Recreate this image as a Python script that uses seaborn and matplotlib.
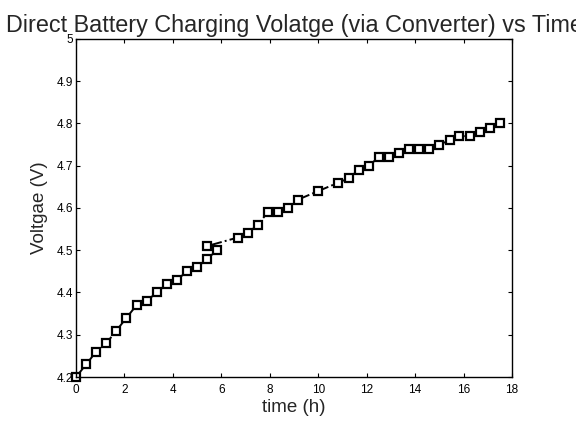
import pandas as pd
import seaborn as sns
import matplotlib
matplotlib.use("Agg")
import matplotlib.pyplot as plt
from matplotlib.ticker import FormatStrFormatter, MultipleLocator

# readings taken roughly every 25 min (one point out of order near 5.4 h)
time_h = [0.00, 0.42, 0.83, 1.25, 1.67, 2.08, 2.50, 2.92, 3.33, 3.75,
          4.17, 4.58, 5.00, 5.42, 5.83, 5.42, 6.67, 7.08, 7.50, 7.92,
          8.33, 8.75, 9.17, 10.00, 10.83, 11.25, 11.67, 12.08, 12.50, 12.92,
          13.33, 13.75, 14.17, 14.58, 15.00, 15.42, 15.83, 16.25, 16.67, 17.08,
          17.50]
voltage = [4.20, 4.23, 4.26, 4.28, 4.31, 4.34, 4.37, 4.38, 4.40, 4.42,
           4.43, 4.45, 4.46, 4.48, 4.50, 4.51, 4.53, 4.54, 4.56, 4.59,
           4.59, 4.60, 4.62, 4.64, 4.66, 4.67, 4.69, 4.70, 4.72, 4.72,
           4.73, 4.74, 4.74, 4.74, 4.75, 4.76, 4.77, 4.77, 4.78, 4.79,
           4.80]

df = pd.DataFrame({"time": time_h, "voltage": voltage})

sns.set_style("ticks")
plt.rcParams["font.family"] = ["Liberation Sans", "DejaVu Sans"]

fig = plt.figure(figsize=(5.76, 4.21), dpi=100)
ax = fig.add_axes([0.132, 0.1045, 0.757, 0.803])

sns.lineplot(
    data=df, x="time", y="voltage", ax=ax,
    sort=False, estimator=None,
    color="black", linestyle="-.", linewidth=1.4,
    marker="s", markersize=5.5, markerfacecolor="white",
    markeredgecolor="black", markeredgewidth=1.6,
    clip_on=False,
)

ax.set_xlim(0, 18)
ax.set_ylim(4.2, 5.0)
ax.xaxis.set_major_locator(MultipleLocator(2))
ax.yaxis.set_major_locator(MultipleLocator(0.1))
ax.yaxis.set_major_formatter(FormatStrFormatter("%g"))

for side in ["top", "right", "left", "bottom"]:
    ax.spines[side].set_visible(True)
    ax.spines[side].set_linewidth(1.0)
    ax.spines[side].set_color("black")

ax.tick_params(direction="in", length=3, width=0.8, top=True, right=True,
               labelsize=8.5, colors="black")
ax.tick_params(axis="y", pad=2)
ax.tick_params(axis="x", pad=5)

ax.set_title("Direct Battery Charging Volatge (via Converter) vs Time",
             fontsize=16.8, pad=5)
ax.set_xlabel("time (h)", fontsize=13.5, labelpad=2)
ax.set_ylabel("Voltgae (V)", fontsize=13.5, labelpad=6)

plt.savefig("out.png", dpi=100)
